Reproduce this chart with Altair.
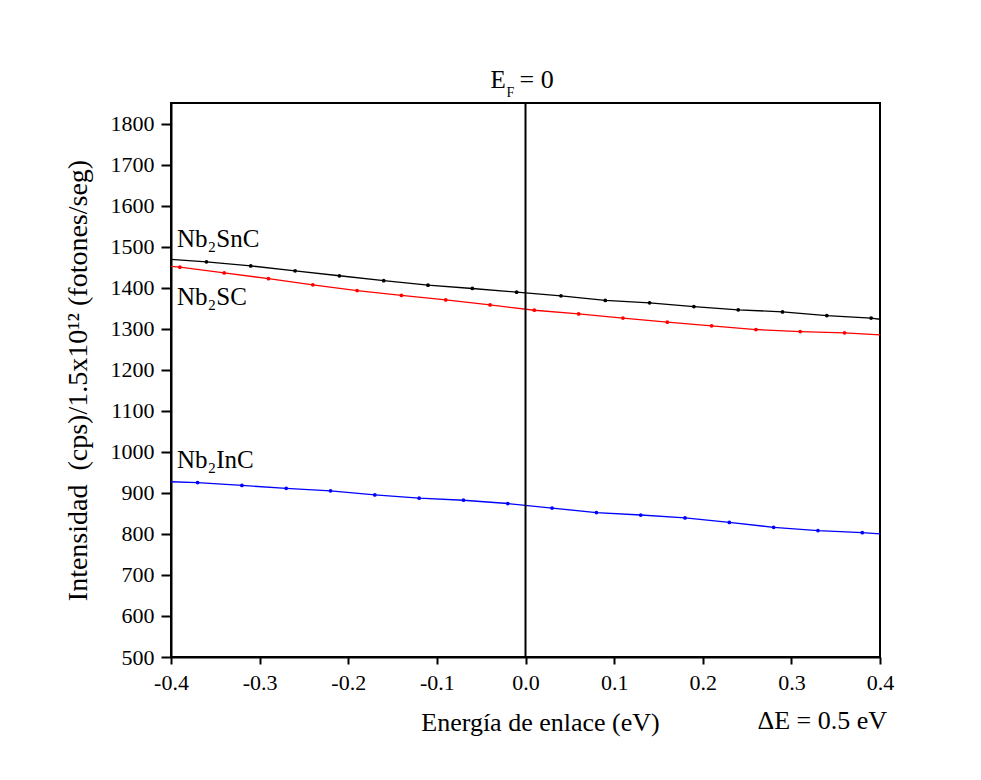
import altair as alt
import pandas as pd

FONT = "Liberation Serif"

# Nb2SnC (black)
sn_x = [-0.36, -0.31, -0.26, -0.21, -0.16, -0.11, -0.06, -0.01, 0.04, 0.09, 0.14, 0.19, 0.24, 0.29, 0.34, 0.39]
sn_y = [1463, 1453, 1441, 1429, 1417, 1406, 1398, 1389, 1380, 1369, 1363, 1354, 1346, 1341, 1332, 1326]
sn_ends = [1469, 1323]

# Nb2SC (red)
sc_x = [-0.39, -0.34, -0.29, -0.24, -0.19, -0.14, -0.09, -0.04, 0.01, 0.06, 0.11, 0.16, 0.21, 0.26, 0.31, 0.36]
sc_y = [1450, 1436, 1422, 1407, 1393, 1381, 1370, 1358, 1345, 1336, 1326, 1316, 1307, 1298, 1293, 1290]
sc_ends = [1452, 1285]

# Nb2InC (blue)
in_x = [-0.37, -0.32, -0.27, -0.22, -0.17, -0.12, -0.07, -0.02, 0.03, 0.08, 0.13, 0.18, 0.23, 0.28, 0.33, 0.38]
in_y = [925, 918, 911, 905, 895, 887, 882, 874, 863, 852, 846, 839, 828, 816, 808, 803]
in_ends = [927, 800]

x_range = [-0.4, 0.4]
series_names = ["Nb2SnC", "Nb2SC", "Nb2InC"]
series_colors = ["#000000", "#ff0000", "#0000ff"]
x_ticks = [-0.4, -0.3, -0.2, -0.1, 0.0, 0.1, 0.2, 0.3, 0.4]
y_ticks = list(range(500, 1851, 50))

pts_rows, line_rows = [], []
for name, xs, ys, ends in [("Nb2SnC", sn_x, sn_y, sn_ends),
                           ("Nb2SC", sc_x, sc_y, sc_ends),
                           ("Nb2InC", in_x, in_y, in_ends)]:
    line_rows.append({"s": name, "x": x_range[0], "y": ends[0]})
    for a, b in zip(xs, ys):
        pts_rows.append({"s": name, "x": a, "y": b})
        line_rows.append({"s": name, "x": a, "y": b})
    line_rows.append({"s": name, "x": x_range[1], "y": ends[1]})

pts_df = pd.DataFrame(pts_rows)
line_df = pd.DataFrame(line_rows)

color = alt.Color("s:N", scale=alt.Scale(domain=series_names, range=series_colors), legend=None)

x_axis = alt.Axis(
    values=x_ticks,
    labelExpr="datum.value < 0 ? '-' + format(-datum.value, '.1f') : format(datum.value, '.1f')",
    labelFont=FONT, labelFontSize=22, labelColor="black", labelPadding=8, labelFlush=False,
    tickSize=7, tickWidth=2, tickColor="black",
    domainColor="black", domainWidth=2, grid=False,
    title="Energía de enlace (eV)", titleFont=FONT, titleFontSize=26,
    titleFontWeight="normal", titleColor="black",
    titleX=369, titleY=73, titleBaseline="alphabetic", titleAlign="center",
)
y_axis = alt.Axis(
    values=y_ticks,
    labelExpr="datum.value % 100 === 0 ? format(datum.value, 'd') : ''",
    labelFont=FONT, labelFontSize=22, labelColor="black", labelPadding=7, labelFlush=False,
    tickSize={"condition": {"test": "datum.value % 100 === 0", "value": 10}, "value": 5},
    tickWidth=2, tickColor="black",
    domainColor="black", domainWidth=2, grid=False,
    title="Intensidad\u00a0\u00a0(cps)/1.5x10¹² (fotones/seg)", titleFont=FONT, titleFontSize=28,
    titleFontWeight="normal", titleColor="black", titleAngle=-90,
    titleX=-85, titleY=277, titleBaseline="alphabetic", titleAlign="center",
)

X = alt.X("x:Q", scale=alt.Scale(domain=x_range, nice=False, zero=False), axis=x_axis)
Y = alt.Y("y:Q", scale=alt.Scale(domain=[500, 1850], nice=False, zero=False), axis=y_axis)

lines = alt.Chart(line_df).mark_line(strokeWidth=1.3).encode(x=X, y=Y, color=color, detail="s:N")
points = alt.Chart(pts_df).mark_circle(size=14, opacity=1).encode(x="x:Q", y="y:Q", color=color)

one = pd.DataFrame({"a": [0]})
zero_rule = alt.Chart(one).mark_rule(color="black", strokeWidth=2).encode(x=alt.datum(0))

def txt(text, size=26, **kw):
    return alt.Chart(one).mark_text(text=text, font=FONT, fontSize=size, color="black", **kw)

lab_sn = txt("Nb₂SnC", 25, align="left", baseline="alphabetic", dx=6).encode(x=alt.datum(-0.4), y=alt.datum(1500))
lab_sc = txt("Nb₂SC", 25, align="left", baseline="alphabetic", dx=6).encode(x=alt.datum(-0.4), y=alt.datum(1357))
lab_in = txt("Nb₂InC", 25, align="left", baseline="alphabetic", dx=6).encode(x=alt.datum(-0.4), y=alt.datum(960))

ef_e = txt("E", 25, align="left", baseline="alphabetic", dx=-35).encode(x=alt.datum(0), y=alt.value(-15))
ef_f = txt("F", 14, align="left", baseline="alphabetic", dx=-19).encode(x=alt.datum(0), y=alt.value(-6))
ef_eq = txt("= 0", 26, align="left", baseline="alphabetic", dx=-6).encode(x=alt.datum(0), y=alt.value(-15))

delta = txt("ΔE = 0.5 eV", 26, align="right", baseline="alphabetic", dx=7).encode(x=alt.datum(0.4), y=alt.value(626))

chart = alt.layer(
    lines, points, zero_rule, lab_sn, lab_sc, lab_in, ef_e, ef_f, ef_eq, delta
).properties(
    width=709, height=554,
    padding={"left": 171, "top": 103, "right": 101, "bottom": 123},
    autosize=alt.AutoSizeParams(type="none"),
    background="white",
).configure_view(
    stroke="black", strokeWidth=2
)

chart.save("out.html", embed_options={"renderer": "svg", "actions": False})
